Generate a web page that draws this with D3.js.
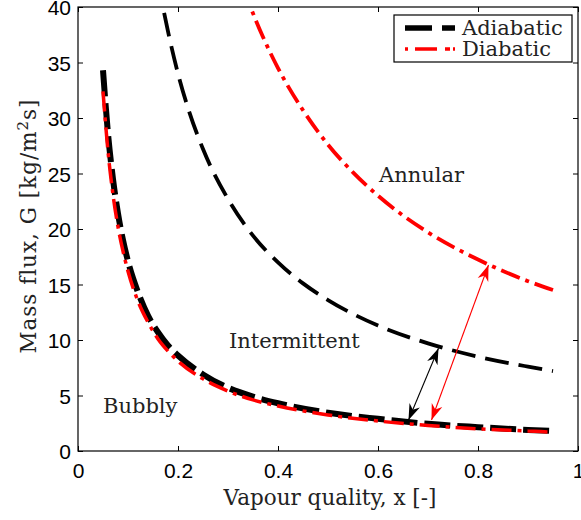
<!DOCTYPE html>
<html><head><meta charset="utf-8">
<script src="https://cdn.jsdelivr.net/npm/d3@7"></script>
<style>body{margin:0;background:#fff}svg{display:block}</style>
</head><body><svg id="c" width="581" height="520"></svg>
<script>
// Data
const adiabaticBubblyX = [0.05,0.06,0.07,0.08,0.09,0.10,0.12,0.14,0.16,0.18,0.20,0.25,0.30,0.35,0.40,0.50,0.60,0.70,0.80,0.90,0.95];
const adiabaticBubblyG = [34.3,28.6,24.5,21.4,19.0,17.1,14.3,12.2,10.7,9.5,8.6,6.9,5.7,4.9,4.3,3.45,2.9,2.45,2.15,1.9,1.8];
const diabaticBubblyX  = [0.05,0.06,0.07,0.08,0.09,0.10,0.12,0.14,0.16,0.18,0.20,0.25,0.30,0.35,0.40,0.50,0.60,0.70,0.80,0.90,0.95];
const diabaticBubblyG  = [32.4,27.0,23.1,20.2,18.0,16.2,13.5,11.6,10.1,9.0,8.1,6.5,5.4,4.6,4.05,3.25,2.7,2.3,2.0,1.8,1.7];
const adiabaticAnnularX = [0.16,0.17,0.18,0.20,0.22,0.25,0.30,0.35,0.40,0.45,0.50,0.60,0.70,0.80,0.90,0.95];
const adiabaticAnnularG = [42.5,40.0,37.8,34.0,30.9,27.2,22.7,19.4,17.0,15.1,13.6,11.3,9.7,8.5,7.6,7.2];
const diabaticAnnularX = [0.33,0.345,0.37,0.40,0.45,0.50,0.55,0.60,0.70,0.80,0.90,0.95];
const diabaticAnnularG = [41.8,40.0,37.3,34.5,30.7,27.6,25.1,23.0,19.7,17.25,15.3,14.5];
const xTicks = [0,0.2,0.4,0.6,0.8,1];
const xTickLabels = ["0","0.2","0.4","0.6","0.8","1"];
const yTicks = [0,5,10,15,20,25,30,35,40];
const legendLabels = ["Adiabatic","Diabatic"];
const regionLabels = ["Bubbly","Intermittent","Annular"];
const regionX = [0.05,0.302,0.602];
const regionG = [3.4,9.3,24.2];
const arrowsStart = [[0.661,2.79],[0.707,2.79]];
const arrowsEnd   = [[0.721,9.25],[0.821,16.76]];
const arrowColors = ["#000","#f00"];

const svg = d3.select("#c");
const L=78,R=578,T=7,B=451;
const x = d3.scaleLinear().domain([0,1]).range([L,R]);
const y = d3.scaleLinear().domain([0,40]).range([B,T]);

svg.append("defs").append("clipPath").attr("id","clip")
  .append("rect").attr("x",L).attr("y",T).attr("width",R-L).attr("height",B-T);
["#000","#f00"].forEach((c,i)=>{
  svg.select("defs").append("marker").attr("id","ah"+i)
   .attr("viewBox","0 0 10 10").attr("refX",10).attr("refY",5)
   .attr("markerWidth",16).attr("markerHeight",16).attr("markerUnits","userSpaceOnUse")
   .attr("orient","auto-start-reverse")
   .append("path").attr("d","M0,1.5 L10,5 L0,8.5 L3,5 Z").attr("fill",c);
});

const tickFont = "'Liberation Sans', Arial, sans-serif";
const serif = "'DejaVu Serif', serif";

const xAxis = d3.axisBottom(x).tickValues(xTicks).tickFormat((d,i)=>xTickLabels[i]).tickSizeInner(-5).tickSizeOuter(0).tickPadding(12);
const yAxis = d3.axisLeft(y).tickValues(yTicks).tickFormat(d3.format("d")).tickSizeInner(-5).tickSizeOuter(0).tickPadding(7);
const gx = svg.append("g").attr("transform",`translate(0,${B})`).call(xAxis);
const gy = svg.append("g").attr("transform",`translate(${L},0)`).call(yAxis);
const gx2 = svg.append("g").attr("transform",`translate(0,${T})`).call(d3.axisTop(x).tickValues(xTicks).tickFormat("").tickSizeInner(-5).tickSizeOuter(0));
const gy2 = svg.append("g").attr("transform",`translate(${R},0)`).call(d3.axisRight(y).tickValues(yTicks).tickFormat("").tickSizeInner(-5).tickSizeOuter(0));
[gx,gy,gx2,gy2].forEach(g=>{
  g.select(".domain").remove();
  g.selectAll("line").attr("stroke","#000").attr("stroke-width",1);
  g.selectAll("text").attr("font-family",tickFont).attr("font-size",21).attr("fill","#000");
});
gx.selectAll("text").attr("dy","0.71em");
gy.selectAll("text").attr("dy","0.36em");

svg.append("rect").attr("x",L).attr("y",T).attr("width",R-L).attr("height",B-T)
  .attr("fill","none").attr("stroke","#000").attr("stroke-width",1.2);

const line = d3.line().x(d=>x(d[0])).y(d=>y(d[1])).curve(d3.curveMonotoneX);
const plot = svg.append("g").attr("clip-path","url(#clip)");
const zip=(a,b)=>a.map((v,i)=>[v,b[i]]);

plot.append("path").attr("d",line(zip(adiabaticAnnularX,adiabaticAnnularG)))
  .attr("fill","none").attr("stroke","#000").attr("stroke-width",3.8).attr("stroke-dasharray","24,10");
plot.append("path").attr("d",line(zip(diabaticAnnularX,diabaticAnnularG)))
  .attr("fill","none").attr("stroke","#f00").attr("stroke-width",3.8).attr("stroke-dasharray","20,6,4,6");
plot.append("path").attr("d",line(zip(adiabaticBubblyX,adiabaticBubblyG)))
  .attr("fill","none").attr("stroke","#000").attr("stroke-width",6).attr("stroke-dasharray","26,7");
plot.append("path").attr("d",line(zip(diabaticBubblyX,diabaticBubblyG)))
  .attr("fill","none").attr("stroke","#f00").attr("stroke-width",3.5).attr("stroke-dasharray","20,6,4,6");

arrowsStart.forEach((s,i)=>{
  const e=arrowsEnd[i];
  svg.append("line").attr("x1",x(s[0])).attr("y1",y(s[1])).attr("x2",x(e[0])).attr("y2",y(e[1]))
    .attr("stroke",arrowColors[i]).attr("stroke-width",1.1)
    .attr("marker-start",`url(#ah${i})`).attr("marker-end",`url(#ah${i})`);
});

regionLabels.forEach((t,i)=>{
  svg.append("text").attr("x",x(regionX[i])).attr("y",y(regionG[i])).text(t)
    .attr("font-family",serif).attr("font-size",21).attr("fill","#222");
});

const lg = svg.append("g");
lg.append("rect").attr("x",394).attr("y",15).attr("width",178).attr("height",47)
  .attr("fill","#fff").attr("stroke","#000").attr("stroke-width",1.2);
lg.append("line").attr("x1",405).attr("x2",455).attr("y1",28).attr("y2",28)
  .attr("stroke","#000").attr("stroke-width",5.5).attr("stroke-dasharray","27,10");
lg.append("line").attr("x1",405).attr("x2",455).attr("y1",49).attr("y2",49)
  .attr("stroke","#f00").attr("stroke-width",3.3).attr("stroke-dasharray","3,7,22,8,5");
legendLabels.forEach((t,i)=>{
  lg.append("text").attr("x",462).attr("y",35+i*21).text(t)
    .attr("font-family",serif).attr("font-size",21).attr("fill","#222");
});

svg.append("text").attr("x",330).attr("y",505).attr("text-anchor","middle")
  .attr("font-family",serif).attr("font-size",21.5).attr("fill","#222").text("Vapour quality, x [-]");
const yl = svg.append("text").attr("transform","translate(36,226) rotate(-90)").attr("text-anchor","middle")
  .attr("font-family",serif).attr("font-size",21.5).attr("letter-spacing",1).attr("fill","#222");
yl.append("tspan").text("Mass flux, G [kg/m");
yl.append("tspan").attr("dy",-8).attr("font-size",15).text("2");
yl.append("tspan").attr("dy",8).text("s]");
</script></body></html>
